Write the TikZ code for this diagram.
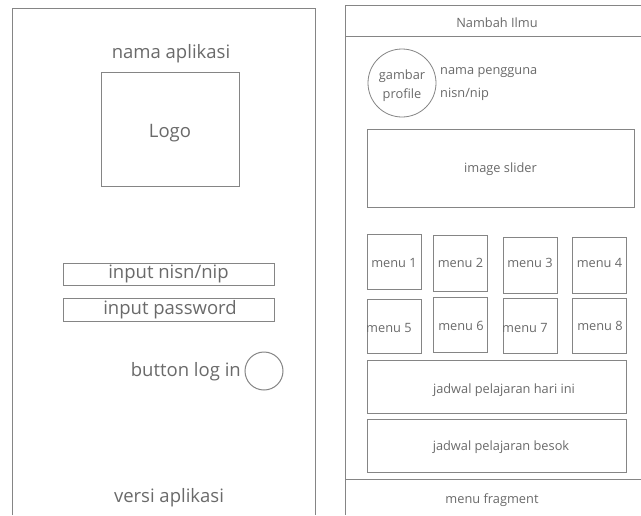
\documentclass[tikz,border=0pt]{standalone}
\usepackage{fontspec}
\setmainfont{Open Sans}
\definecolor{ln}{HTML}{858585}
\definecolor{tx}{HTML}{6A6A6A}
\begin{document}
\begin{tikzpicture}[x=1pt,y=-1pt,
  frame/.style={draw=ln,line width=1pt},
  box/.style={draw=ln,line width=1pt,rectangle,inner sep=0pt},
  bigtxt/.style={text=tx,font=\fontsize{18.5}{22}\selectfont,inner sep=0pt},
  smtxt/.style={text=tx,font=\fontsize{12.8}{19}\selectfont,inner sep=0pt,align=center}]
\useasboundingbox[fill=white] (0,0) rectangle (641,515);
% left screen
\draw[frame] (12,515) -- (12,8) -- (315,8) -- (315,515);
\node[bigtxt] (appname) at (171,54) {nama aplikasi};
\node[box,minimum width=138pt,minimum height=114pt] (logo) at (170,129) {};
\node[bigtxt] (logotxt) at (170,133) {Logo};
\node[box,minimum width=211pt,minimum height=22pt] (nisn) at (168.5,274) {};
\node[bigtxt] (nisntxt) at (168.5,274) {input nisn/nip};
\node[box,minimum width=211pt,minimum height=23pt] (pw) at (168.5,309.5) {};
\node[bigtxt] (pwtxt) at (170,309.5) {input password};
\node[draw=ln,line width=1pt,circle,minimum size=38pt,inner sep=0pt] (btn) at (264,371) {};
\node[bigtxt,anchor=east] (btntxt) at (241,372) {button log in};
\node[bigtxt] (versi) at (169,498) {versi aplikasi};
% right screen
\draw[frame] (641,5) -- (345,5) -- (345,515);
\draw[frame] (345,36) -- (641,36);
\draw[frame] (345,479) -- (641,479);
\node[smtxt] (title) at (497,23) {Nambah Ilmu};
\node[draw=ln,line width=0.8pt,circle,minimum size=68pt,inner sep=0pt] (prof) at (402,83) {};
\node[smtxt] (proftxt) at (402,86) {gambar\\profile};
\node[smtxt,anchor=west] (uname) at (440,73) {nama pengguna};
\node[smtxt,anchor=west] (unisn) at (440,94) {nisn/nip};
\node[box,minimum width=267pt,minimum height=78pt] (slider) at (500.5,168) {};
\node[smtxt] (slidertxt) at (500.5,169) {image slider};
\node[box,minimum width=54pt,minimum height=55pt] (m1) at (394,261.5) {};
\node[box,minimum width=54pt,minimum height=56pt] (m2) at (460,263) {};
\node[box,minimum width=54pt,minimum height=56pt] (m3) at (530,265) {};
\node[box,minimum width=54pt,minimum height=56pt] (m4) at (599,265) {};
\node[box,minimum width=54pt,minimum height=54pt] (m5) at (394,326) {};
\node[box,minimum width=54pt,minimum height=55pt] (m6) at (460,324.5) {};
\node[box,minimum width=54pt,minimum height=55pt] (m7) at (530,325.5) {};
\node[box,minimum width=54pt,minimum height=55pt] (m8) at (599,325.5) {};
\node[smtxt] (m1t) at (394,263) {menu 1};
\node[smtxt] (m2t) at (460.5,263) {menu 2};
\node[smtxt] (m3t) at (530,263) {menu 3};
\node[smtxt] (m4t) at (599.5,263) {menu 4};
\node[smtxt,anchor=west] (m5t) at (366,328) {menu 5};
\node[smtxt] (m6t) at (461,326) {menu 6};
\node[smtxt,anchor=west] (m7t) at (502,328) {menu 7};
\node[smtxt] (m8t) at (600,326) {menu 8};
\node[box,minimum width=259pt,minimum height=53pt] (today) at (496.5,386.5) {};
\node[smtxt] (todayt) at (504,390) {jadwal pelajaran hari ini};
\node[box,minimum width=259pt,minimum height=53pt] (tmrw) at (496.5,445.5) {};
\node[smtxt] (tmrwt) at (501,447) {jadwal pelajaran besok};
\node[smtxt] (frag) at (492,500) {menu fragment};
\end{tikzpicture}
\end{document}
